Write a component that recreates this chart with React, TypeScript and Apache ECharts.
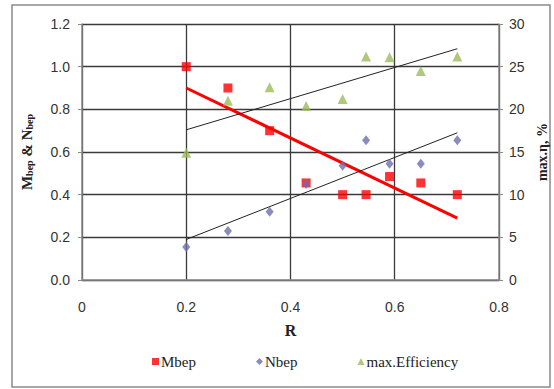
import React, { useEffect, useRef } from "react";
import * as echarts from "echarts";

const rValues = [0.2, 0.28, 0.36, 0.43, 0.5, 0.545, 0.59, 0.65, 0.72];
const mbep = [1.0, 0.9, 0.7, 0.455, 0.4, 0.4, 0.485, 0.455, 0.4];
const nbep = [0.155, 0.23, 0.32, 0.45, 0.535, 0.655, 0.545, 0.545, 0.655];
const maxEfficiency = [14.9, 21.0, 22.6, 20.4, 21.2, 26.2, 26.1, 24.5, 26.2];

const trendR = [0.2, 0.72];
const mbepTrend = [0.9, 0.29];
const nbepTrend = [0.19, 0.69];
const effTrend = [17.6, 27.1];

const leftTicks = [0, 0.2, 0.4, 0.6, 0.8, 1.0, 1.2];
const rightTicks = [0, 5, 10, 15, 20, 25, 30];
const xTicks = [0, 0.2, 0.4, 0.6, 0.8];

const pairs = (xs: number[], ys: number[]) => xs.map((x, i) => [x, ys[i]]);

export default function App() {
  const ref = useRef<HTMLDivElement>(null);
  useEffect(() => {
    if (!ref.current) return;
    const chart = echarts.init(ref.current, undefined, { renderer: "svg" });
    const tickFont = { fontFamily: "Liberation Sans", fontSize: 14, color: "#333" };
    const grid = { lineStyle: { color: "#3a3a3a", width: 1.3 } };
    const serif = "'Liberation Serif', serif";
    chart.setOption({
      animation: false,
      backgroundColor: "#fff",
      graphic: [
        {
          type: "rect",
          shape: { x: 12, y: 5, width: 538, height: 382 },
          style: { fill: "none", stroke: "#8a8a8a", lineWidth: 1.5 },
          silent: true,
        },
      ],
      grid: { left: 82, right: 55, top: 24, bottom: 109, containLabel: false, outerBoundsMode: "none" },
      legend: {
        data: [
          { name: "Mbep", icon: "rect" },
          { name: "Nbep", icon: "diamond" },
          { name: "max.Efficiency", icon: "triangle" },
        ],
        left: 147,
        top: 349,
        itemWidth: 7,
        itemHeight: 7,
        itemGap: 60,
        formatter: "{t|{name}}",
        textStyle: {
          fontFamily: serif,
          fontSize: 15,
          color: "#222",
          rich: { t: { fontFamily: serif, fontSize: 15, color: "#222", padding: [0, 0, 0, -3] } },
        },
      },
      xAxis: {
        type: "value",
        min: xTicks[0],
        max: xTicks[xTicks.length - 1],
        interval: 0.2,
        name: "R",
        nameLocation: "middle",
        nameGap: 42,
        nameTextStyle: { fontFamily: serif, fontWeight: "bold", fontSize: 16, color: "#222" },
        axisLine: { lineStyle: { color: "#8a8a8a", width: 1.5 } },
        axisTick: { show: false },
        axisLabel: { ...tickFont, margin: 20, formatter: (v: number) => (v === 0 ? "0" : String(+v.toFixed(1))) },
        splitLine: { show: true, ...grid },
      },
      yAxis: [
        {
          type: "value",
          min: leftTicks[0],
          max: leftTicks[leftTicks.length - 1],
          interval: 0.2,
          name: "M{s|bep} & N{s|bep}",
          nameLocation: "middle",
          nameGap: 48,
          nameRotate: 90,
          nameTextStyle: {
            fontFamily: serif,
            fontWeight: "bold",
            fontSize: 15,
            color: "#222",
            rich: { s: { fontFamily: serif, fontWeight: "bold", fontSize: 10, color: "#222", verticalAlign: "bottom", padding: [4, 0, 0, 0] } },
          },
          axisLine: { show: true, lineStyle: { color: "#8a8a8a", width: 1.5 } },
          axisTick: { show: true, length: 4, lineStyle: { color: "#8a8a8a" } },
          axisLabel: { ...tickFont, margin: 12, formatter: (v: number) => v.toFixed(1) },
          splitLine: { show: true, ...grid },
        },
        {
          type: "value",
          min: rightTicks[0],
          max: rightTicks[rightTicks.length - 1],
          interval: 5,
          name: "max.η, %",
          nameLocation: "middle",
          nameGap: 25,
          nameRotate: 90,
          nameTextStyle: { fontFamily: serif, fontWeight: "bold", fontSize: 14, color: "#222" },
          axisLine: { show: true, lineStyle: { color: "#8a8a8a", width: 1.5 } },
          axisTick: { show: true, length: 4, lineStyle: { color: "#8a8a8a" } },
          axisLabel: { ...tickFont, margin: 10 },
          splitLine: { show: false },
        },
      ],
      series: [
        {
          name: "Mbep",
          type: "scatter",
          symbol: "rect",
          symbolSize: 9,
          itemStyle: { color: "#ff0000" },
          data: pairs(rValues, mbep),
          z: 5,
        },
        {
          name: "Nbep",
          type: "scatter",
          symbol: "diamond",
          symbolSize: [8, 10],
          itemStyle: { color: "#6e6eac" },
          data: pairs(rValues, nbep),
          z: 5,
        },
        {
          name: "max.Efficiency",
          type: "scatter",
          symbol: "triangle",
          symbolSize: [10, 10],
          yAxisIndex: 1,
          itemStyle: { color: "#9bbb59" },
          data: pairs(rValues, maxEfficiency),
          z: 5,
        },
        {
          name: "Mbep trend",
          type: "line",
          symbol: "none",
          lineStyle: { color: "#ff0000", width: 3 },
          data: pairs(trendR, mbepTrend),
          z: 4,
        },
        {
          name: "Nbep trend",
          type: "line",
          symbol: "none",
          lineStyle: { color: "#222", width: 1 },
          data: pairs(trendR, nbepTrend),
          z: 4,
        },
        {
          name: "Efficiency trend",
          type: "line",
          symbol: "none",
          yAxisIndex: 1,
          lineStyle: { color: "#222", width: 1 },
          data: pairs(trendR, effTrend),
          z: 4,
        },
      ],
    });
    return () => chart.dispose();
  }, []);
  return <div ref={ref} style={{ width: 554, height: 389, position: "absolute", left: 0, top: 0 }} />;
}
